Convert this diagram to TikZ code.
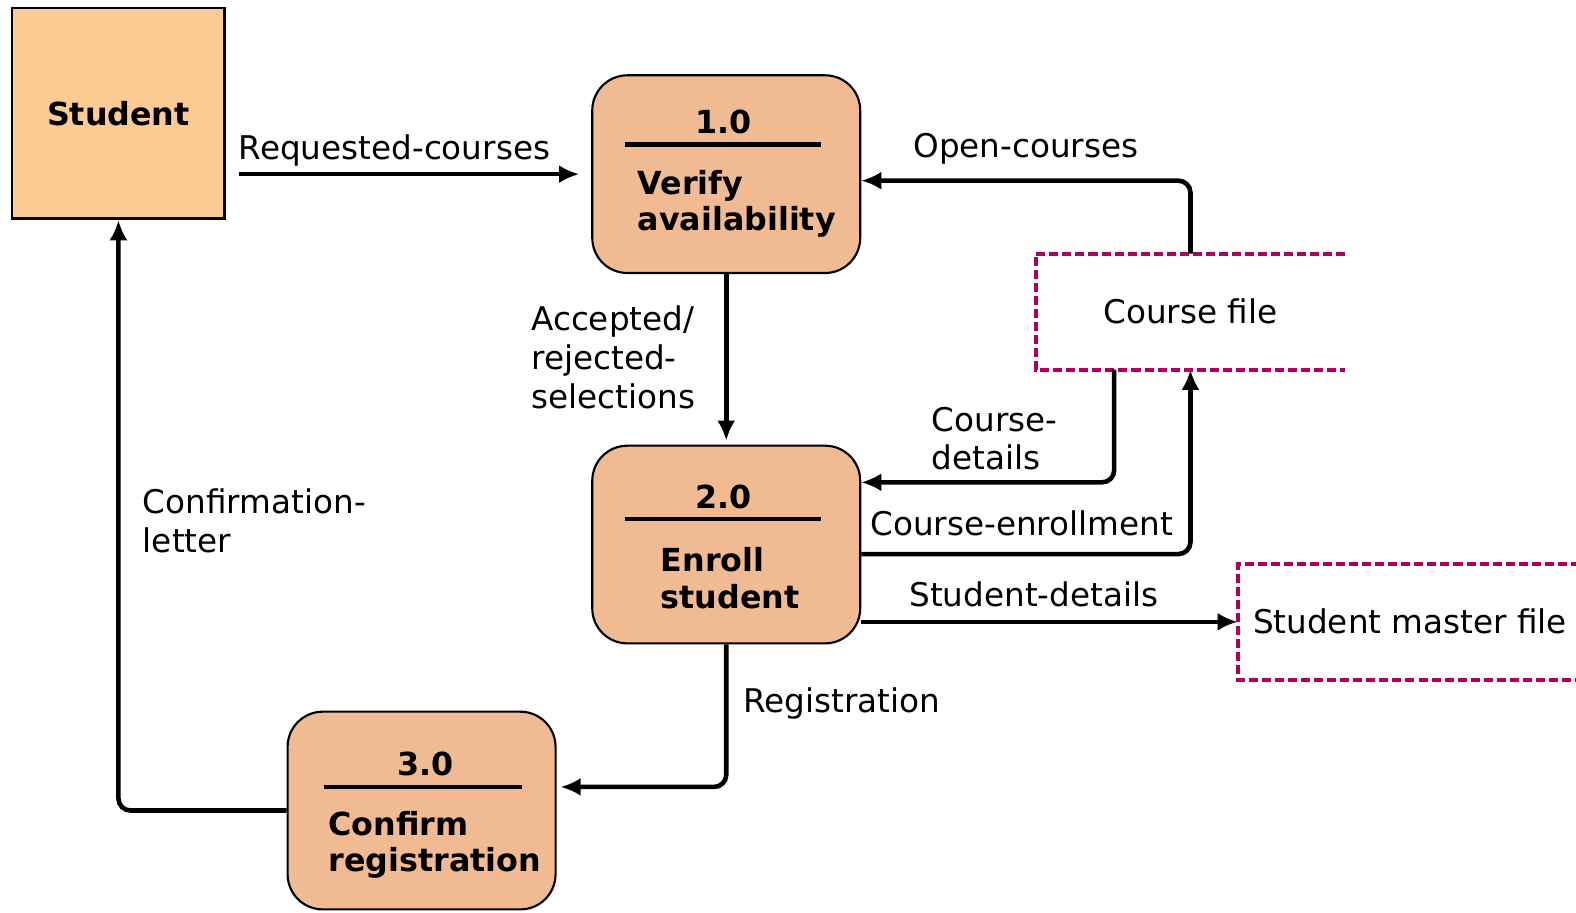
\documentclass[tikz,border=0pt]{standalone}
\usepackage{fontspec}
\setmainfont{DejaVu Sans}
\usetikzlibrary{arrows.meta}
\definecolor{StuOrange}{HTML}{FCCB93}
\definecolor{ProcTan}{HTML}{F0BA92}
\definecolor{FileMagenta}{HTML}{B0005F}

\begin{document}
\begin{tikzpicture}[x=0.02cm, y=-0.02cm,
	entity/.style={draw, line width=1.6pt, fill=StuOrange, minimum width=4.24cm, minimum height=4.2cm, font=\bfseries\fontsize{18}{21}\selectfont},
	process/.style={draw, line width=1.2pt, fill=ProcTan, rounded corners=0.7cm, minimum width=5.34cm, minimum height=3.94cm},
	pnum/.style={font=\bfseries\fontsize{18}{21}\selectfont, inner sep=0},
	pname/.style={font=\bfseries\fontsize{18}{20.5}\selectfont, align=left, anchor=west, inner sep=0},
	flow/.style={line width=2.6pt, -{Latex[length=0.4cm,width=0.36cm]}, rounded corners=0.24cm},
	lbl/.style={font=\fontsize{18.5}{22}\selectfont, inner sep=0},
	filebox/.style={minimum height=2.3cm, inner sep=0, font=\fontsize{18.5}{22}\selectfont},
	fileedge/.style={FileMagenta, line width=2.2pt, dash pattern=on 0.18cm off 0.08cm}]
			\useasboundingbox (0,0) rectangle (1570.1,908.6);
			\coordinate (edge) at (1600,0);
			
			\node[entity] (stu) at (118,113) {Student};
			
			\node[process] (p1) at (723.5,173.5) {};
			\node[pnum] (p1num) at (721,121) {1.0};
			\draw[line width=2.4pt] (623,144) -- (818,144);
			\node[pname] (p1name) at (635,203) {Verify\\availability};
			
			\node[process] (p2) at (723.5,542.5) {};
			\node[pnum] (p2num) at (721,495) {2.0};
			\draw[line width=2.4pt] (623,517) -- (818,517);
			\node[pname] (p2name) at (658,576) {Enroll\\student};
			
			\node[process] (p3) at (420,807.5) {};
			\node[pnum] (p3num) at (424,761) {3.0};
			\draw[line width=2.4pt] (323,784) -- (520,784);
			\node[pname] (p3name) at (327,842) {Confirm\\registration};
			
			\node[filebox, minimum width=6.16cm] (cf) at (1186,310.5) {Course file};
			\draw[fileedge] (cf.north east) -- (cf.north west) -- (cf.south west) -- (cf.south east);
			
			\node[filebox, anchor=west, inner xsep=0.3cm] (smf) at (1233,619.5) {Student master file};
			\draw[fileedge] (smf.north west -| edge) -- (smf.north west) -- (smf.south west) -- (smf.south west -| edge);
			
			\draw[flow, shorten <=0.26cm, shorten >=0.24cm] (stu.east |- p1.west) -- (p1.west);
			\node[lbl] (reqlbl) at (393,150) {Requested-courses};
			
			\draw[flow] (cf.north) |- ([yshift=-0.13cm]p1.east);
			\node[lbl] (openlbl) at (1022,148) {Open-courses};
			
			\draw[flow, shorten >=0.08cm] (p1.south) -- (p2.north);
			\node[lbl, align=left, anchor=west] (acclbl) at (529,356) {Accepted/\\rejected-\\selections};
			
			\draw[flow] ([xshift=-1.52cm]cf.south) |- ([yshift=1.24cm]p2.east);
			\node[lbl, align=left, anchor=west] (cdlbl) at (928,437) {Course-\\details};
			
			\draw[flow] ([yshift=-0.19cm]p2.east) -| (cf.south);
			\node[lbl] (celbl) at (1018,521) {Course-enrollment};
			
			\draw[flow] (p2.east |- smf.west) -- (smf.west);
			\node[lbl] (sdlbl) at (1030,592) {Student-details};
			
			\draw[flow, shorten >=0.08cm] (p2.south) |- ([yshift=0.47cm]p3.east);
			\node[lbl, anchor=west] (reglbl) at (740,701) {Registration};
			
			\draw[flow] (p3.west) -| (stu.south);
			\node[lbl, align=left, anchor=west] (conflbl) at (142,519) {Confirmation-\\letter};
			
		\end{tikzpicture}
\end{document}
